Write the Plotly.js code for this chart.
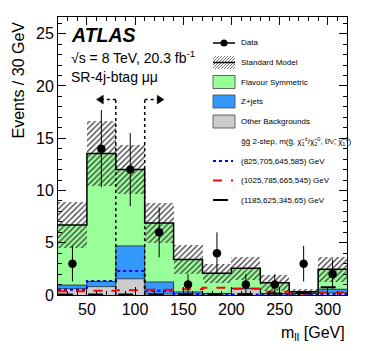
<!DOCTYPE html>
<html>
<head>
<meta charset="utf-8">
<script src="https://cdn.plot.ly/plotly-3.0.1.min.js"></script>
<style>
  html, body { margin: 0; padding: 0; background: #fff; }
  #chart { width: 366px; height: 351px; }
</style>
</head>
<body>
<div id="chart"></div>
<script>
// bin edges (GeV) and centres, 30 GeV bins
const binEdges = [20, 50, 80, 110, 140, 170, 200, 230, 260, 290, 320];
const binCentres = [35, 65, 95, 125, 155, 185, 215, 245, 275, 305];

// observed data and its error
const dataValues = [3, 14, 12, 6, 1, 4, 1, 1, 3, 2];
const dataErrors = [1.7, 3.7, 3.5, 2.4, 1.0, 2.0, 1.0, 1.0, 1.7, 1.4];

// background components (stacked: other, Z+jets, flavour symmetric)
const otherBkg = [0.6, 0.8, 1.55, 0.1, 0.1, 0.1, 0.6, 0.1, 0.15, 0.2];
const zJets = [0.35, 0.5, 3.15, 1.15, 0.2, 0.05, 0.05, 0.05, 0.02, 0.35];
const flavSym = [5.75, 12.25, 7.3, 5.65, 3.1, 1.92, 1.9, 1.03, 0.15, 1.91];
// total SM uncertainty
const smErrors = [2.2, 3.1, 2.35, 1.9, 1.4, 0.9, 1.1, 0.75, 0.3, 1.2];

// signal points
const sig825 = [0.5, 1.35, 2.3, 0.4, 0.1, 0.05, 0.05, 0.03, 0.02, 0.1];
const sig1025 = [0.35, 0.4, 0.45, 0.5, 0.55, 0.7, 0.6, 0.3, 0.15, 0.25];
const sig1185 = [0.05, 0.05, 0.05, 0.05, 0.05, 0.1, 0.1, 0.15, 0.2, 0.75];

const legendLabels = ['Data', 'Standard Model', 'Flavour Symmetric', 'Z+jets', 'Other Backgrounds'];
const signalLabels = ['(825,705,645,585) GeV', '(1025,785,665,545) GeV', '(1185,625,345,65) GeV'];

const colGreen = '#99ff99';
const colBlue = '#3399ff';
const colGrey = '#cccccc';
const FONT = 'Liberation Sans, Arial, sans-serif';
const LEG_SIZE = 8;

// plot area in pixels (for legend placement)
const L = 58, T = 17, W = 289, H = 278;
const px = x => (x - L) / W;
const py = y => (T + H - y) / H;

const lowZ = otherBkg.map((v, i) => v + zJets[i]);
const smTotal = lowZ.map((v, i) => v + flavSym[i]);
const smLow = smTotal.map((v, i) => v - smErrors[i]);
const twoErr = smErrors.map(e => 2 * e);

const stepY = arr => arr.concat([arr[arr.length - 1]]);

const barCommon = { type: 'bar', x: binCentres, width: 30, hoverinfo: 'skip', showlegend: false };
const stepLine = (vals, color, width, dash) => ({
  type: 'scatter', mode: 'lines', x: binEdges, y: stepY(vals),
  line: { shape: 'hv', color, width, dash: dash || 'solid' },
  hoverinfo: 'skip', showlegend: false
});

const traces = [
  Object.assign({}, barCommon, { y: otherBkg, base: 0, marker: { color: colGrey, line: { width: 0 } } }),
  Object.assign({}, barCommon, { y: zJets, base: otherBkg, marker: { color: colBlue, line: { width: 0 } } }),
  Object.assign({}, barCommon, { y: flavSym, base: lowZ, marker: { color: colGreen, line: { width: 0 } } }),
  Object.assign({}, barCommon, {
    y: twoErr, base: smLow,
    marker: {
      color: 'rgba(0,0,0,0)', line: { width: 0 },
      pattern: { shape: '/', fgcolor: '#3a3a3a', bgcolor: 'rgba(0,0,0,0)', size: 4, solidity: 0.32 }
    }
  }),
  stepLine(otherBkg, '#333', 0.8),
  stepLine(lowZ, '#222', 0.8),
  stepLine(smTotal, '#000', 1.5),
  stepLine(sig825, '#0000ff', 2, 'dot'),
  stepLine(sig1025, '#ff0000', 2, 'dash'),
  stepLine(sig1185, '#000000', 2, 'longdash'),
  {
    type: 'scatter', mode: 'markers', x: binCentres, y: dataValues,
    error_y: { type: 'data', array: dataErrors, color: '#000', thickness: 1, width: 0 },
    marker: { color: '#000', size: 8.5 },
    hoverinfo: 'skip', showlegend: false
  }
];

// ---- legend, drawn by hand in the ATLAS style ----
const shapes = [];
const annotations = [];
const rowY = [43, 62.5, 82, 101.5, 121.5, 141, 161, 180.5, 200];
const boxX0 = 213, boxX1 = 235, textX = 239;

// data entry
shapes.push({ type: 'line', xref: 'paper', yref: 'paper', x0: px(boxX0), x1: px(boxX1), y0: py(rowY[0]), y1: py(rowY[0]), line: { color: '#000', width: 1.5 } });
shapes.push({ type: 'circle', xref: 'paper', yref: 'paper', xsizemode: 'pixel', ysizemode: 'pixel',
  xanchor: px(224), yanchor: py(rowY[0]), x0: -3.5, x1: 3.5, y0: -3.5, y1: 3.5, fillcolor: '#000', line: { width: 0 } });

// standard model entry: hatched box with a line through it
const hy0 = rowY[1] - 6.5, hy1 = rowY[1] + 6.5;
let hatch = '';
for (let k = boxX0 - 13; k < boxX1; k += 3) {
  let x0 = k, y0 = hy1, x1 = k + 13, y1 = hy0;
  if (x0 < boxX0) { y0 -= boxX0 - x0; x0 = boxX0; }
  if (x1 > boxX1) { y1 += x1 - boxX1; x1 = boxX1; }
  hatch += `M${px(x0)},${py(y0)}L${px(x1)},${py(y1)}`;
}
shapes.push({ type: 'path', xref: 'paper', yref: 'paper', path: hatch, line: { color: '#555', width: 0.8 } });
shapes.push({ type: 'line', xref: 'paper', yref: 'paper', x0: px(boxX0), x1: px(boxX1), y0: py(rowY[1]), y1: py(rowY[1]), line: { color: '#000', width: 1.5 } });

// filled boxes
[colGreen, colBlue, colGrey].forEach((c, i) => {
  const yc = rowY[i + 2];
  shapes.push({ type: 'rect', xref: 'paper', yref: 'paper', x0: px(boxX0), x1: px(boxX1), y0: py(yc + 6.5), y1: py(yc - 6.5),
    fillcolor: c, line: { color: '#444', width: 0.8 } });
});

legendLabels.forEach((t, i) => {
  annotations.push({ xref: 'paper', yref: 'paper', x: px(textX), y: py(rowY[i]), xanchor: 'left', yanchor: 'middle',
    text: t, showarrow: false, font: { family: FONT, size: LEG_SIZE, color: '#000' } });
});
annotations.push({ xref: 'paper', yref: 'paper', x: px(textX), y: py(rowY[5]), xanchor: 'left', yanchor: 'middle',
  text: 'g\u0303g\u0303 2-step, m(g\u0303, \u03c7\u0303<sub>1</sub><sup>\u00b1</sup>/\u03c7\u0303<sub>2</sub><sup>0</sup>, \u2113\u0303/\u03bd\u0303, \u03c7\u0303<sub>1</sub><sup>0</sup>)',
  showarrow: false, font: { family: FONT, size: LEG_SIZE, color: '#000' } });

const sigStyles = [['#0000ff', 'dot'], ['#ff0000', 'dash'], ['#000000', 'longdash']];
signalLabels.forEach((t, i) => {
  const yc = rowY[6 + i];
  shapes.push({ type: 'line', xref: 'paper', yref: 'paper', x0: px(boxX0), x1: px(233), y0: py(yc), y1: py(yc),
    line: { color: sigStyles[i][0], width: 2, dash: sigStyles[i][1] } });
  annotations.push({ xref: 'paper', yref: 'paper', x: px(textX), y: py(yc), xanchor: 'left', yanchor: 'middle',
    text: t, showarrow: false, font: { family: FONT, size: LEG_SIZE, color: '#000' } });
});

// Z-window veto lines and arrows
const windowLo = 80, windowHi = 110, arrowY = 18.7;
[windowLo, windowHi].forEach(x => {
  shapes.push({ type: 'line', xref: 'x', yref: 'y', x0: x, x1: x, y0: 0, y1: arrowY, line: { color: '#000', width: 1.5, dash: 'dot' } });
});
shapes.push({ type: 'line', xref: 'x', yref: 'y', x0: windowLo, x1: 66, y0: arrowY, y1: arrowY, line: { color: '#000', width: 1.5, dash: 'dot' } });
shapes.push({ type: 'line', xref: 'x', yref: 'y', x0: windowHi, x1: 124, y0: arrowY, y1: arrowY, line: { color: '#000', width: 1.5, dash: 'dot' } });
// filled arrow heads
shapes.push({ type: 'path', xref: 'x', yref: 'y', path: `M60,${arrowY}L67,${arrowY + 0.42}L67,${arrowY - 0.42}Z`, fillcolor: '#000', line: { color: '#000', width: 0.5 } });
shapes.push({ type: 'path', xref: 'x', yref: 'y', path: `M130,${arrowY}L123,${arrowY + 0.42}L123,${arrowY - 0.42}Z`, fillcolor: '#000', line: { color: '#000', width: 0.5 } });

// ATLAS labels
annotations.push({ xref: 'paper', yref: 'paper', x: px(69), y: py(35), xanchor: 'left', yanchor: 'middle',
  text: '<b><i>ATLAS</i></b>', showarrow: false, font: { family: FONT, size: 19.5, color: '#000' } });
annotations.push({ xref: 'paper', yref: 'paper', x: px(69), y: py(57), xanchor: 'left', yanchor: 'middle',
  text: '\u221as = 8 TeV, 20.3 fb<sup>-1</sup>', showarrow: false, font: { family: FONT, size: 14, color: '#000' } });
annotations.push({ xref: 'paper', yref: 'paper', x: px(69), y: py(77), xanchor: 'left', yanchor: 'middle',
  text: 'SR-4j-btag \u03bc\u03bc', showarrow: false, font: { family: FONT, size: 14, color: '#000' } });

// axis titles placed like ROOT does (right / top aligned)
annotations.push({ xref: 'paper', yref: 'paper', x: 1, y: py(322), xanchor: 'right', yanchor: 'top',
  text: 'm<sub>ll</sub> [GeV]', showarrow: false, font: { family: FONT, size: 16, color: '#000' } });
annotations.push({ xref: 'paper', yref: 'paper', x: px(18), y: py(20), xanchor: 'center', yanchor: 'top', textangle: -90,
  text: 'Events / 30 GeV', showarrow: false, font: { family: FONT, size: 16, color: '#000' } });

const axisCommon = {
  showgrid: false, zeroline: false, showline: true, linecolor: '#000', linewidth: 1,
  mirror: 'ticks', ticks: 'inside', ticklen: 8, tickcolor: '#000', tickwidth: 1,
  tickfont: { family: FONT, size: 16, color: '#000' }
};

const layout = {
  width: 366, height: 351,
  margin: { l: L, r: 366 - L - W, t: T, b: 351 - T - H },
  paper_bgcolor: '#fff', plot_bgcolor: '#fff',
  barmode: 'overlay', bargap: 0,
  showlegend: false,
  xaxis: Object.assign({}, axisCommon, {
    range: [20, 320], tick0: 0, dtick: 50,
    minor: { dtick: 10, ticks: 'inside', ticklen: 4, tickcolor: '#000' }
  }),
  yaxis: Object.assign({}, axisCommon, {
    range: [0, 26.6], tick0: 0, dtick: 5,
    minor: { dtick: 1, ticks: 'inside', ticklen: 4, tickcolor: '#000' }
  }),
  shapes, annotations
};

Plotly.newPlot('chart', traces, layout, { staticPlot: true });
</script>
</body>
</html>
